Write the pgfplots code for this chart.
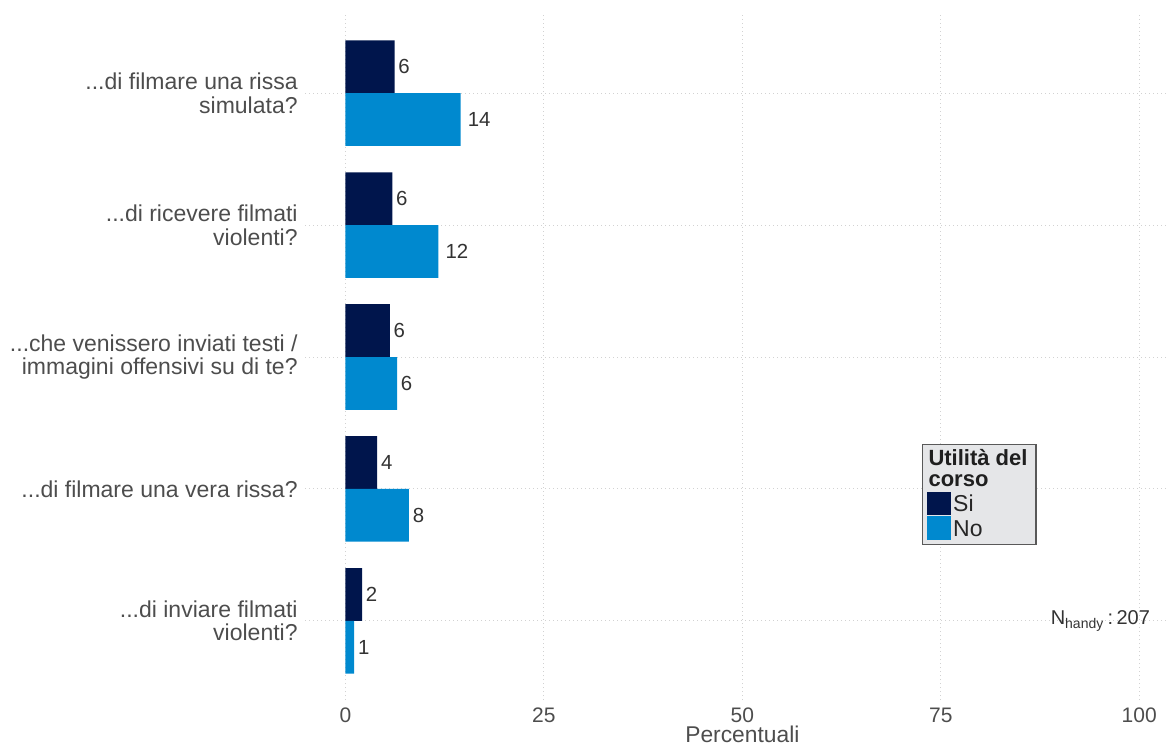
\documentclass[border=0pt]{standalone}
\usepackage{fontspec}
\setmainfont{Liberation Sans}
\usepackage{pgfplots}
\pgfplotsset{compat=1.18}
\usepackage{pgfplotstable}
\definecolor{si}{RGB}{0,21,76}
\definecolor{no}{RGB}{0,137,207}
\definecolor{axtext}{HTML}{4D4D4D}
\definecolor{valtext}{HTML}{333333}
\definecolor{gridc}{HTML}{D2D2D2}
\definecolor{legfill}{HTML}{E5E6E8}
\definecolor{legdraw}{HTML}{595959}

\pgfplotstableread{
y si silab no nolab
1 2.1 2 1.1 1
2 4.0 4 8.0 8
3 5.6 6 6.5 6
4 5.9 6 11.7 12
5 6.2 6 14.5 14
}\datatable

\newcommand\hj[1]{\setbox0\hbox{#1}\hspace*{0.3\wd0}\box0}
\newcommand\ddd{.\kern0pt.\kern0pt.}

\begin{document}
\begin{tikzpicture}
\begin{axis}[
  at={(152.5pt,22pt)}, anchor=south west,
  scale only axis, width=431pt, height=343pt,
  xbar, bar width=0.4,
  xmin=-5.1, xmax=103.5, ymin=0.4, ymax=5.6,
  enlargelimits=false,
  xtick={0,25,50,75,100}, xticklabels={0,25,50,75,100},
  ytick={1,2,3,4,5},
  yticklabels={{\ddd di inviare filmati\\violenti?},{\ddd di filmare una vera rissa?},{\ddd che venissero inviati testi /\\immagini offensivi su di te?},{\ddd di ricevere filmati\\violenti?},{\ddd di filmare una rissa\\simulata?}},
  major tick length=0pt,
  axis line style={draw=none},
  grid=major,
  major grid style={gridc, line width=0.5pt, dash pattern=on 0.5pt off 1.5pt},
  yticklabel style={align=right, font=\fontsize{11.5}{11.8}\selectfont, text=axtext, inner sep=0pt, xshift=-3.5pt},
  xticklabel style={font=\fontsize{10.5}{12}\selectfont, text=axtext, anchor=base, inner sep=0pt, yshift=-11.2pt},
  xlabel={Percentuali},
  xlabel style={at={(axis description cs:0.5074,0)}, anchor=base, yshift=-21pt, font=\fontsize{11.4}{13}\selectfont, text=axtext, inner sep=0pt},
  point meta=explicit symbolic,
  nodes near coords={\hj{\pgfplotspointmeta}},
  every node near coord/.append style={anchor=west, inner sep=0pt, font=\fontsize{10.2}{12}\selectfont, text=valtext},
  clip=false,
]
\addplot[fill=si, draw=none, bar shift=0.2] table[x=si, y=y, meta=silab] {\datatable};
\addplot[fill=no, draw=none, bar shift=-0.2] table[x=no, y=y, meta=nolab] {\datatable};
\coordinate (L) at (axis cs:72.7,2.338);
\node[anchor=base east, inner sep=0pt, font=\fontsize{10}{12}\selectfont, text=valtext] at (axis cs:101.4,0.97) {N\textsubscript{handy}\,:\,207};
\end{axis}
\draw[legdraw, fill=legfill, line width=0.6pt] (L) rectangle ++(56.7pt,-50pt);
\node[anchor=base west, inner sep=0pt, font=\bfseries\fontsize{11}{13}\selectfont, text=black!88] at ([shift={(2.8pt,-10.35pt)}]L) {Utilità del};
\node[anchor=base west, inner sep=0pt, font=\bfseries\fontsize{11}{13}\selectfont, text=black!88] at ([shift={(2.8pt,-21pt)}]L) {corso};
\fill[si] ([shift={(2.15pt,-23.85pt)}]L) rectangle ([shift={(14.15pt,-35.5pt)}]L);
\fill[no] ([shift={(2.15pt,-36pt)}]L) rectangle ([shift={(14.15pt,-47.85pt)}]L);
\node[anchor=base west, inner sep=0pt, font=\fontsize{11.5}{13}\selectfont, text=black!85] at ([shift={(15.15pt,-33.35pt)}]L) {Si};
\node[anchor=base west, inner sep=0pt, font=\fontsize{11.5}{13}\selectfont, text=black!85] at ([shift={(15.15pt,-45.85pt)}]L) {No};
\pgfresetboundingbox
\path[use as bounding box] (0,0) rectangle (583.5pt,372pt);
\end{tikzpicture}
\end{document}
